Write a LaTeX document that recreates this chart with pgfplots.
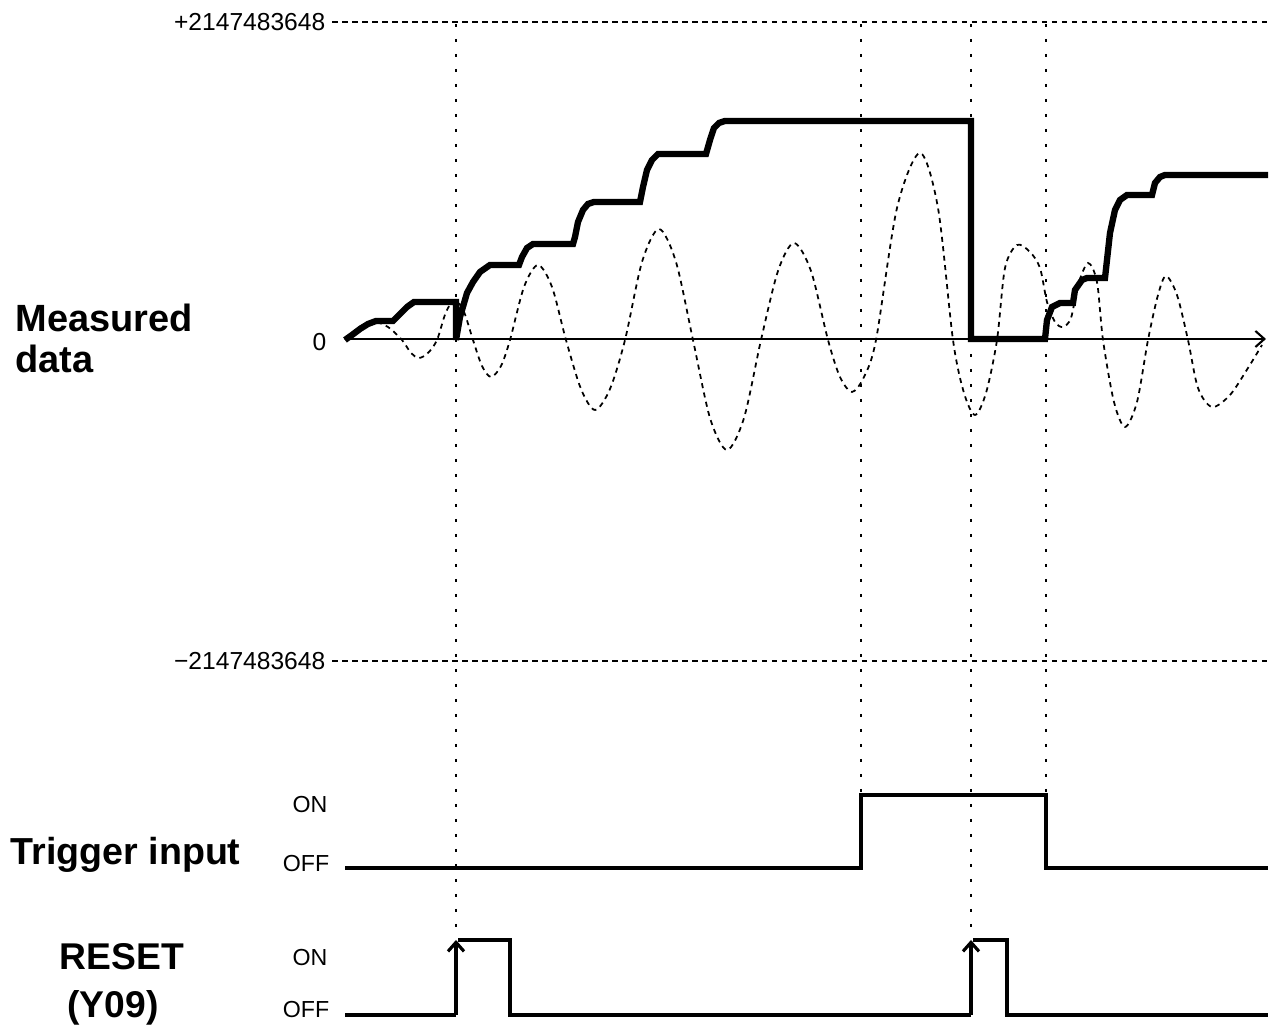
\documentclass[border=0pt]{standalone}
\usepackage{pgfplots}
\pgfplotsset{compat=1.18}
\usepackage{fontspec}
\setmainfont{Liberation Sans}
\usetikzlibrary{arrows.meta}
\begin{document}
\begin{tikzpicture}
\begin{axis}[hide axis, scale only axis, width=12.72cm, height=10.26cm,
  xmin=0, xmax=1272, ymin=0, ymax=1026, y dir=reverse, clip=false]
\addplot[draw=none] coordinates {(0,0)(1272,1026)};
% reference dashed horizontal lines
\addplot[black, line width=0.5pt, dash pattern=on 0.55mm off 0.45mm] coordinates {(332,22)(1268,22)};
\addplot[black, line width=0.5pt, dash pattern=on 0.55mm off 0.45mm] coordinates {(332,661)(1268,661)};
% dotted vertical lines
\addplot[black, line width=0.7pt, dash pattern=on 0.3mm off 1.2mm] coordinates {(456,24)(456,937)};
\addplot[black, line width=0.7pt, dash pattern=on 0.3mm off 1.2mm] coordinates {(861,24)(861,795)};
\addplot[black, line width=0.7pt, dash pattern=on 0.3mm off 1.2mm] coordinates {(971,24)(971,937)};
\addplot[black, line width=0.7pt, dash pattern=on 0.3mm off 1.2mm] coordinates {(1046,24)(1046,795)};
% zero axis
\addplot[black, line width=0.6pt, -{Straight Barb[length=0.9mm,width=1.6mm]}] coordinates {(345,339)(1266,339)};
% measured signal (dashed)
\addplot[black, line width=0.5pt, dash pattern=on 0.5mm off 0.45mm, smooth] coordinates {
(345,340)(359,327)(374,322)(388,327)(402,340)(411,353)(419,358)(428,353)(437,340)
(446,312)(455,300)(464,312)(473,340)(482,366)(491,377)(501,366)(510,340)
(524,287)(538,265)(552,287)(566,340)(581,389)(595,410)(610,389)(625,340)
(642,262)(659,229)(676,262)(693,340)(710,418)(727,450)(744,418)(761,340)
(778,271)(794,243)(811,271)(828,340)(840,377)(852,392)(864,377)(876,340)
(897,208)(920,153)(938,208)(953,340)(964,393)(975,415)(986,393)(997,340)
(1005,268)(1017,245)(1030,252)(1040,268)(1047,302)(1055,322)(1063,327)(1071,318)
(1078,285)(1088,263)(1097,282)(1103,340)(1114,402)(1125,427)(1137,402)(1148,340)
(1158,295)(1166,276)(1177,295)(1188,340)(1198,388)(1212,407)(1230,395)(1248,368)(1262,345)};
% held value (thick)
\addplot[black, line width=1.8pt, line join=miter] coordinates {
(345,340)(352,335)(360,329)(368,324)(376,321)(393,321)(400,314)(407,307)(414,302)(456,302)(456,340)
(460,317)(467,293)(473,282)(480,272)(490,265)(519,265)(522,257)(527,248)(533,244)(573,244)
(575,237)(578,222)(583,210)(588,204)(594,202)(640,202)(643,187)(647,170)(652,160)(658,154)
(706,154)(710,140)(714,128)(719,123)(725,121)(971,121)(971,339)(1045,339)
(1047,320)(1052,307)(1060,303)(1073,303)(1075,290)(1082,280)(1087,278)(1105,278)
(1107,260)(1110,233)(1115,210)(1120,200)(1127,195)(1152,195)(1155,183)(1160,177)(1165,175)(1268,175)};
% trigger input
\addplot[black, line width=0.9pt, line join=miter] coordinates {
(345,868)(861,868)(861,795)(1046,795)(1046,868)(1268,868)};
% reset
\addplot[black, line width=0.9pt] coordinates {(345,1015)(456,1015)};
\addplot[black, line width=0.9pt, -{Straight Barb[length=0.9mm,width=1.6mm]}] coordinates {(456,1015)(456,940)};
\addplot[black, line width=0.9pt, line join=miter] coordinates {(458,940)(510,940)(510,1015)(971,1015)};
\addplot[black, line width=0.9pt, -{Straight Barb[length=0.9mm,width=1.6mm]}] coordinates {(971,1015)(971,940)};
\addplot[black, line width=0.9pt, line join=miter] coordinates {(973,940)(1007,940)(1007,1015)(1268,1015)};
% labels
\node[anchor=east, inner sep=0pt, font=\fontsize{7}{8}\selectfont] at (axis cs:326,22) {+2147483648};
\node[anchor=east, inner sep=0pt, font=\fontsize{7}{8}\selectfont] at (axis cs:326,661) {−2147483648};
\node[anchor=east, inner sep=0pt, font=\fontsize{7}{8}\selectfont] at (axis cs:327,342) {0};
\node[anchor=base west, inner sep=0pt, font=\fontsize{10.8}{12}\selectfont\bfseries] at (axis cs:15,332) {Measured};
\node[anchor=base west, inner sep=0pt, font=\fontsize{10.8}{12}\selectfont\bfseries] at (axis cs:15,373) {data};
\node[anchor=base west, inner sep=0pt, font=\fontsize{10.7}{12}\selectfont\bfseries] at (axis cs:10,865) {Trigger input};
\node[anchor=base, inner sep=0pt, font=\fontsize{10.6}{12}\selectfont\bfseries] at (axis cs:122,970) {RESET};
\node[anchor=base, inner sep=0pt, font=\fontsize{10.6}{12}\selectfont\bfseries] at (axis cs:113,1018) {(Y09)};
\node[anchor=base east, inner sep=0pt, font=\fontsize{6.6}{8}\selectfont] at (axis cs:328,813) {ON};
\node[anchor=base east, inner sep=0pt, font=\fontsize{6.6}{8}\selectfont] at (axis cs:330,872) {OFF};
\node[anchor=base east, inner sep=0pt, font=\fontsize{6.6}{8}\selectfont] at (axis cs:328,966) {ON};
\node[anchor=base east, inner sep=0pt, font=\fontsize{6.6}{8}\selectfont] at (axis cs:330,1018) {OFF};
\end{axis}
\end{tikzpicture}
\end{document}
